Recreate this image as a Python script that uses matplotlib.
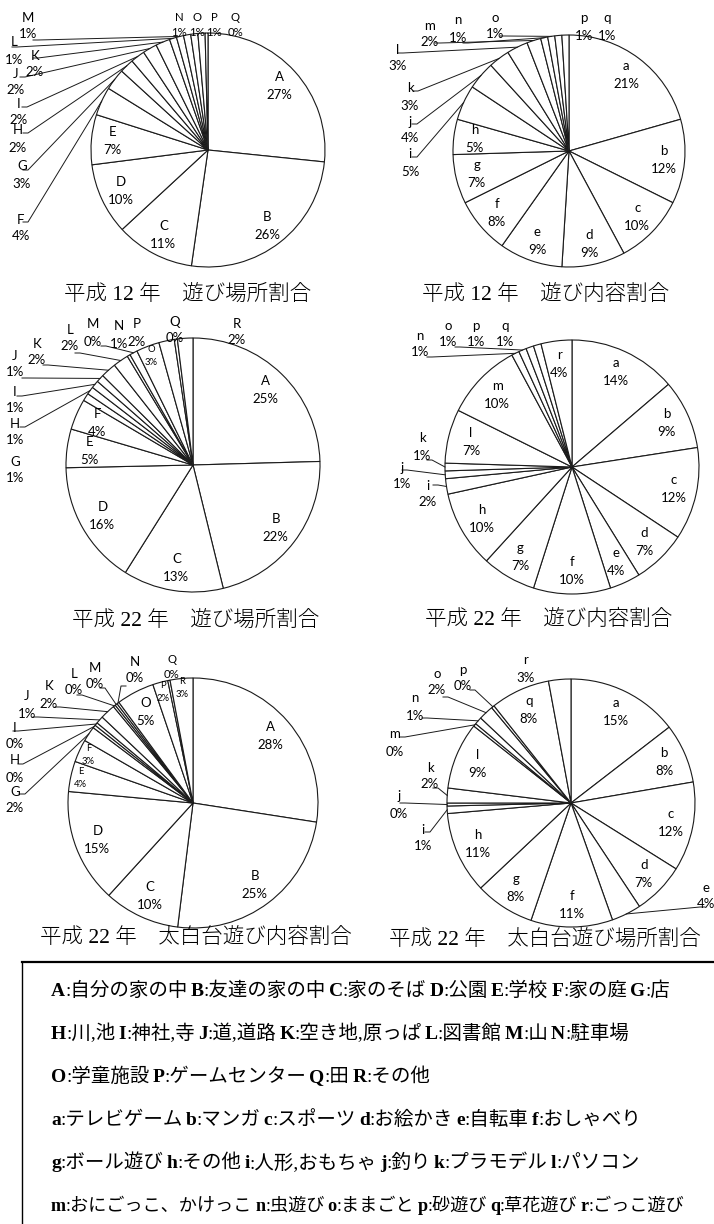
import matplotlib
matplotlib.use("Agg")
import matplotlib.pyplot as plt
import numpy as np

W, H = 714, 1224

# 平成12年 遊び場所割合
keys_place12 = list("ABCDEFGHIJKLMNOPQ")
vals_place12 = [27, 26, 11, 10, 7, 4, 3, 2, 2, 2, 2, 1, 1, 1, 1, 1, 0.4]

# 平成12年 遊び内容割合
keys_play12 = list("abcdefghijklmnopq")
vals_play12 = [21, 12, 10, 9, 9, 8, 7, 5, 5, 4, 3, 3, 2, 1, 1, 1, 1]

# 平成22年 遊び場所割合
keys_place22 = list("ABCDEFGHIJKLMNOPQR")
vals_place22 = [25, 22, 13, 16, 5, 4, 1, 1, 1, 1, 2, 2, 0.4, 1, 3, 2, 0.4, 2]

# 平成22年 遊び内容割合
keys_play22 = list("abcdefghijklmnopqr")
vals_play22 = [14, 9, 12, 7, 4, 10, 7, 10, 2, 1, 1, 7, 10, 1, 1, 1, 1, 4]

# 平成22年 太白台 (A-R)
keys_tai_A = list("ABCDEFGHIJKLMNOPQR")
vals_tai_A = [28, 25, 10, 15, 4, 3, 2, 0.4, 0.4, 1, 2, 0.3, 0.3, 0.3, 5, 2, 0.3, 3]

# 平成22年 太白台 (a-r)
keys_tai_a = list("abcdefghijklmnopqr")
vals_tai_a = [15, 8, 12, 7, 4, 11, 8, 11, 1, 0.4, 2, 9, 0.4, 1, 2, 0.4, 8, 3]

titles = ["平成 12 年　遊び場所割合", "平成 12 年　遊び内容割合",
          "平成 22 年　遊び場所割合", "平成 22 年　遊び内容割合",
          "平成 22 年　太白台遊び内容割合", "平成 22 年　太白台遊び場所割合"]

legend_rows = [
    [("A", "自分の家の中"), ("B", "友達の家の中"), ("C", "家のそば"), ("D", "公園"),
     ("E", "学校"), ("F", "家の庭"), ("G", "店")],
    [("H", "川,池"), ("I", "神社,寺"), ("J", "道,道路"), ("K", "空き地,原っぱ"),
     ("L", "図書館"), ("M", "山"), ("N", "駐車場")],
    [("O", "学童施設"), ("P", "ゲームセンター"), ("Q", "田"), ("R", "その他")],
    [("a", "テレビゲーム"), ("b", "マンガ"), ("c", "スポーツ"), ("d", "お絵かき"),
     ("e", "自転車"), ("f", "おしゃべり")],
    [("g", "ボール遊び"), ("h", "その他"), ("i", "人形,おもちゃ"), ("j", "釣り"),
     ("k", "プラモデル"), ("l", "パソコン")],
    [("m", "おにごっこ、かけっこ"), ("n", "虫遊び"), ("o", "ままごと"), ("p", "砂遊び"),
     ("q", "草花遊び"), ("r", "ごっこ遊び")],
]

LBL = "Lato"
LINE = "#1a1a1a"
FS = 9.5      # slice label size
FS_SMALL = 6.8

fig = plt.figure(figsize=(W / 100, H / 100), dpi=100)
ax = fig.add_axes([0, 0, 1, 1])


def Y(y):
    return H - y


def draw_pie(keys, vals, cx, cy, r, inside, small, outside, title, tpos, tiny=""):
    wedges, _ = ax.pie(vals, radius=r, center=(cx, Y(cy)), startangle=90,
                       counterclock=False,
                       wedgeprops=dict(facecolor="white", edgecolor=LINE, linewidth=0.8))
    for k, v, w in zip(keys, vals, wedges):
        mid = np.radians((w.theta1 + w.theta2) / 2)
        pct = f"{v:.0f}%"
        if k in inside or k in small:
            sm = k in small
            f = 0.92 if sm else 0.82
            fs = FS_SMALL if sm else FS
            gap = 6.5 if sm else 9
            x = cx + f * r * np.cos(mid)
            y = Y(cy) + f * r * np.sin(mid)
            ax.text(x, y + gap, k, fontsize=fs, family=LBL, ha="center", va="center", zorder=5)
            ax.text(x, y - gap, pct, fontsize=fs, family=LBL, ha="center", va="center", zorder=5)
        elif k in outside:
            tx, ty, lead = outside[k]
            fs = 8.2 if k in tiny else FS
            gap = 7.5 if k in tiny else 8.5
            ax.text(tx, Y(ty - gap), k, fontsize=fs, family=LBL, ha="center", va="center", zorder=5)
            ax.text(tx, Y(ty + gap), pct, fontsize=fs, family=LBL, ha="center", va="center", zorder=5)
            if lead is not None:
                lx, ly = lead
                ex = cx + r * np.cos(mid)
                ey = Y(cy) + r * np.sin(mid)
                sx = lx - 5 if ex > lx else lx + 5
                ax.plot([sx, lx, ex], [Y(ly), Y(ly), ey], color=LINE, lw=0.7, zorder=4)
    ax.text(tpos[0], Y(tpos[1]), title, fontsize=15.5, ha="center", va="center",
            family=["Liberation Serif", "Noto Sans CJK JP"], fontweight="light", zorder=5)


# pie 1
draw_pie(keys_place12, vals_place12, 208, 150, 117,
         inside="ABCDE", small="",
         outside={"F": (21, 228, (28, 222)), "G": (22, 175, (28, 170)),
                  "H": (18, 139, (28, 133)), "I": (19, 112, (27, 107)),
                  "J": (16, 82, (25, 77)), "K": (35, 64, (38, 58)),
                  "L": (14, 51, (17, 47)), "M": (28, 26, (38, 40)),
                  "N": (179, 25, None), "O": (197, 25, None),
                  "P": (214, 25, None), "Q": (235, 25, None)},
         title=titles[0], tpos=(188, 295), tiny="NOPQ")

# pie 2
draw_pie(keys_play12, vals_play12, 569, 151, 116,
         inside="abcdefgh", small="",
         outside={"i": (410, 163, (417, 157)), "j": (410, 130, (417, 124)),
                  "k": (410, 97, (418, 91)), "l": (398, 58, (403, 53)),
                  "m": (430, 34, (440, 43)), "n": (458, 29, (468, 43)),
                  "o": (495, 26, (505, 36)), "p": (584, 27, None),
                  "q": (607, 27, None)},
         title=titles[1], tpos=(546, 295))

# pie 3
draw_pie(keys_place22, vals_place22, 193, 465, 127,
         inside="ABCDEF", small="O",
         outside={"G": (15, 470, None), "H": (15, 432, (25, 427)),
                  "I": (15, 400, (22, 396)), "J": (15, 364, (27, 378)),
                  "K": (37, 352, (48, 365)), "L": (70, 338, (80, 353)),
                  "M": (93, 333, None), "N": (119, 335, (106, 346)),
                  "P": (137, 333, None), "Q": (175, 330, None),
                  "R": (237, 332, None)},
         title=titles[2], tpos=(196, 621))

# pie 4
draw_pie(keys_play22, vals_play22, 572, 467, 127,
         inside="abcdefghlmr", small="",
         outside={"i": (428, 494, (438, 485)), "j": (402, 476, (407, 470)),
                  "k": (422, 447, (432, 460)), "n": (420, 344, (432, 357)),
                  "o": (448, 334, (460, 347)), "p": (476, 334, None),
                  "q": (505, 334, None)},
         title=titles[3], tpos=(549, 620))

# pie 5
draw_pie(keys_tai_A, vals_tai_A, 193, 803, 125,
         inside="ABCDO", small="EFPR",
         outside={"G": (15, 800, (25, 794)), "H": (15, 769, (23, 764)),
                  "I": (15, 736, (18, 731)), "J": (27, 705, (38, 717)),
                  "K": (49, 695, (60, 707)), "L": (74, 682, (82, 695)),
                  "M": (95, 676, (105, 688)), "N": (135, 670, (121, 686)),
                  "Q": (172, 667, None)},
         title=titles[4], tpos=(196, 938), tiny="Q")

# pie 6
draw_pie(keys_tai_a, vals_tai_a, 571, 803, 124,
         inside="abcdfghlq", small="",
         outside={"e": (706, 896, (700, 907)), "i": (423, 838, (430, 832)),
                  "j": (399, 805, (405, 803)), "k": (430, 776, (438, 788)),
                  "m": (395, 743, (405, 737)), "n": (415, 707, (427, 718)),
                  "o": (437, 682, (448, 697)), "p": (463, 678, (475, 690)),
                  "r": (526, 669, None)},
         title=titles[5], tpos=(545, 940))

# legend box
ax.plot([22, W + 5], [Y(962), Y(962)], color="black", lw=1.6, zorder=6)
ax.plot([22, 22], [Y(962), Y(H + 5)], color="black", lw=1.0, zorder=6)

renderer = fig.canvas.get_renderer()
row_y = [990, 1033, 1076, 1119, 1162, 1205]
row_fs = [14, 14, 14, 14, 14, 13.1]
for items, yc, rfs in zip(legend_rows, row_y, row_fs):
    x = 51
    for key, name in items:
        t1 = ax.text(x, Y(yc + 6), key, fontsize=rfs, family="Liberation Serif",
                     fontweight="bold", va="baseline", ha="left", zorder=6)
        x += t1.get_window_extent(renderer).width
        t2 = ax.text(x, Y(yc + 6), ":" + name, fontsize=rfs,
                     family=["Liberation Serif", "Noto Sans CJK JP"],
                     va="baseline", ha="left", zorder=6)
        x += t2.get_window_extent(renderer).width + 3

ax.set_xlim(0, W)
ax.set_ylim(0, H)
ax.set_aspect("auto")
ax.axis("off")

fig.savefig("out.png", dpi=100)
